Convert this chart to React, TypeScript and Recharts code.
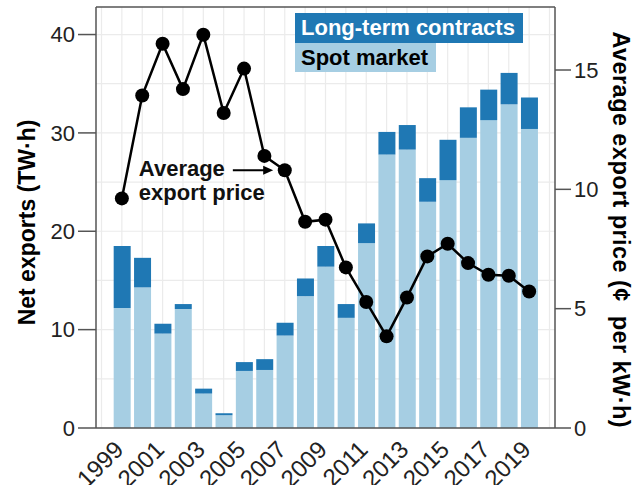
import React from "react";
import {
  Bar,
  CartesianGrid,
  ComposedChart,
  Legend,
  Line,
  ReferenceLine,
  XAxis,
  YAxis,
} from "recharts";

const FONT = '"Liberation Sans", Arial, Helvetica, sans-serif';
const DARK = "#1f78b4";
const LIGHT = "#a6cee3";
const AXIS = "#555555";

const years = [
  1999, 2000, 2001, 2002, 2003, 2004, 2005, 2006, 2007, 2008, 2009, 2010, 2011,
  2012, 2013, 2014, 2015, 2016, 2017, 2018, 2019,
];
// TW·h
const spotMarket = [
  12.2, 14.3, 9.6, 12.1, 3.5, 1.3, 5.8, 5.9, 9.4, 13.4, 16.4, 11.2, 18.8, 27.8,
  28.3, 23.0, 25.2, 29.5, 31.3, 32.9, 30.4,
];
const longTerm = [
  6.3, 3.0, 1.0, 0.5, 0.5, 0.2, 0.9, 1.1, 1.3, 1.8, 2.1, 1.4, 2.0, 2.3, 2.5,
  2.4, 4.1, 3.1, 3.1, 3.2, 3.2,
];
// cents per kW·h
const price = [
  9.62, 13.93, 16.1, 14.2, 16.48, 13.2, 15.06, 11.4, 10.8, 8.64, 8.73, 6.73,
  5.28, 3.84, 5.47, 7.19, 7.72, 6.91, 6.42, 6.38, 5.72,
];

const yearTicks = [1999, 2001, 2003, 2005, 2007, 2009, 2011, 2013, 2015, 2017, 2019];
const gridYears = [
  1998, 1999, 2000, 2001, 2002, 2003, 2004, 2005, 2006, 2007, 2008, 2009, 2010,
  2011, 2012, 2013, 2014, 2015, 2016, 2017, 2018, 2019, 2020,
];
const leftTicks = [0, 10, 20, 30, 40];
const leftGrid = [0, 5, 10, 15, 20, 25, 30, 35, 40];
const rightTicks = [0, 5, 10, 15];

const X_DOMAIN = [1997.73, 2020.27];
const LEFT_MAX = 42.8;
const RIGHT_MAX = 17.64;

const data = years.map((year, i) => ({
  year,
  spot: spotMarket[i],
  longTerm: longTerm[i],
  price: price[i],
}));

function YearTick({ x, y, payload }: any) {
  const ax = x + 3;
  const ay = y + 15;
  return (
    <text
      x={ax}
      y={ay}
      transform={`rotate(-45 ${ax} ${ay})`}
      textAnchor="end"
      fontSize={24}
      fontFamily={FONT}
      fill="#222"
    >
      {payload.value}
    </text>
  );
}

function LeftTitle({ viewBox }: any) {
  const cx = viewBox.x + 27;
  const cy = viewBox.y + viewBox.height / 2 + 5;
  return (
    <text
      x={cx}
      y={cy}
      transform={`rotate(-90 ${cx} ${cy})`}
      textAnchor="middle"
      dominantBaseline="central"
      fontSize={23}
      fontWeight="bold"
      fontFamily={FONT}
      fill="#000"
    >
      Net exports (TW·h)
    </text>
  );
}

function RightTitle({ viewBox }: any) {
  const cx = viewBox.x + 66;
  const cy = viewBox.y + viewBox.height / 2 + 12;
  return (
    <text
      x={cx}
      y={cy}
      transform={`rotate(90 ${cx} ${cy})`}
      textAnchor="middle"
      dominantBaseline="central"
      fontSize={23.5}
      fontWeight="bold"
      fontFamily={FONT}
      fill="#000"
      textLength={396}
      lengthAdjust="spacing"
      style={{ whiteSpace: "pre" }}
    >
      {"Average export price (¢  per kW·h)"}
    </text>
  );
}

function PriceArrow(props: any) {
  const { x1, y1, x2, y2 } = props;
  return (
    <g>
      <line x1={x1} y1={y1} x2={x2 - 8} y2={y2} stroke="#000" strokeWidth={2} />
      <polygon
        points={`${x2},${y2} ${x2 - 10},${y2 - 4.5} ${x2 - 10},${y2 + 4.5}`}
        fill="#000"
      />
      <text
        x={x1 - 94}
        y={y1 + 6}
        fontSize={22}
        fontWeight="bold"
        fontFamily={FONT}
        fill="#111"
      >
        Average
      </text>
      <text
        x={x1 - 94}
        y={y1 + 30}
        fontSize={22}
        fontWeight="bold"
        fontFamily={FONT}
        fill="#111"
      >
        export price
      </text>
    </g>
  );
}

function LegendBoxes() {
  const row = {
    fontFamily: FONT,
    fontWeight: "bold" as const,
    fontSize: 22,
    height: 29.5,
    lineHeight: "29.5px",
    padding: "0 8px 0 6px",
    display: "inline-block",
  };
  return (
    <div style={{ display: "flex", flexDirection: "column", alignItems: "flex-start" }}>
      <div style={{ ...row, background: DARK, color: "#fff" }}>Long-term contracts</div>
      <div style={{ ...row, background: LIGHT, color: "#000" }}>Spot market</div>
    </div>
  );
}

export default function App() {
  return (
    <div style={{ position: "absolute", left: 0, top: 0, width: 641, height: 485, background: "#fff" }}>
      <ComposedChart
        width={641}
        height={485}
        data={data}
        margin={{ top: 7, right: 0, bottom: 0, left: 0 }}
      >
        <CartesianGrid
          yAxisId="left"
          horizontalValues={leftGrid}
          verticalValues={gridYears}
          stroke="#ebebeb"
          strokeWidth={1.2}
        />
        <XAxis
          dataKey="year"
          type="number"
          domain={X_DOMAIN}
          ticks={yearTicks}
          allowDataOverflow
          height={57}
          tickLine={false}
          axisLine={{ stroke: AXIS, strokeWidth: 1.5 }}
          tick={<YearTick />}
          interval={0}
        />
        <YAxis
          yAxisId="left"
          width={96}
          domain={[0, LEFT_MAX]}
          ticks={leftTicks}
          allowDataOverflow
          tickSize={18}
          tickMargin={3}
          tickLine={{ stroke: AXIS, strokeWidth: 1.5 }}
          axisLine={{ stroke: AXIS, strokeWidth: 1.5 }}
          tick={{ fontSize: 22, fill: "#222", fontFamily: FONT }}
          label={{ content: <LeftTitle /> }}
        />
        <YAxis
          yAxisId="right"
          orientation="right"
          width={86}
          domain={[0, RIGHT_MAX]}
          ticks={rightTicks}
          allowDataOverflow
          tickSize={16}
          tickMargin={3}
          tickLine={{ stroke: AXIS, strokeWidth: 1.5 }}
          axisLine={{ stroke: AXIS, strokeWidth: 1.5 }}
          tick={{ fontSize: 22, fill: "#222", fontFamily: FONT }}
          label={{ content: <RightTitle /> }}
        />
        <Legend
          content={<LegendBoxes />}
          layout="horizontal"
          verticalAlign="middle"
          align="center"
          wrapperStyle={{ position: "absolute", left: 295, top: 13, width: "auto" }}
        />
        <Bar
          yAxisId="left"
          dataKey="spot"
          stackId="exports"
          fill={LIGHT}
          barSize={17}
          isAnimationActive={false}
        />
        <Bar
          yAxisId="left"
          dataKey="longTerm"
          stackId="exports"
          fill={DARK}
          barSize={17}
          isAnimationActive={false}
        />
        <ReferenceLine yAxisId="left" y={LEFT_MAX} stroke={AXIS} strokeWidth={1.5} />
        <Line
          yAxisId="right"
          dataKey="price"
          type="linear"
          stroke="#000"
          strokeWidth={2.5}
          dot={{ r: 7, fill: "#000", stroke: "#000", strokeWidth: 0 }}
          isAnimationActive={false}
        />
        <ReferenceLine
          yAxisId="right"
          segment={[
            { x: 2004.45, y: 10.8 },
            { x: 2006.43, y: 10.8 },
          ]}
          shape={<PriceArrow />}
        />
      </ComposedChart>
    </div>
  );
}
